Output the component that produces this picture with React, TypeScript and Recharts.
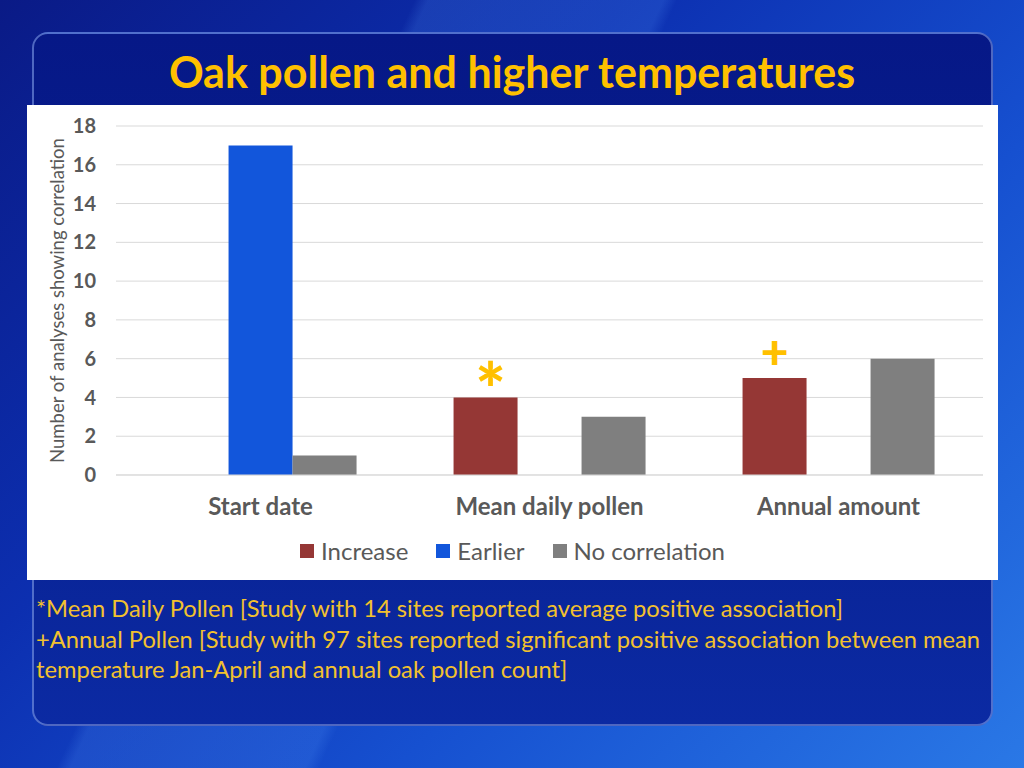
import {
  BarChart,
  Bar,
  XAxis,
  YAxis,
  CartesianGrid,
  Legend,
  LabelList,
  Label,
} from 'recharts'

// categories and series
const categories = ['Start date', 'Mean daily pollen', 'Annual amount']
const increase = [null, 4, 5]
const earlier = [17, null, null]
const noCorrelation = [1, 3, 6]
const markers = ['', '*', '+']
const yTicks = [0, 2, 4, 6, 8, 10, 12, 14, 16, 18]

const footnotes = [
  '*Mean Daily Pollen [Study with 14 sites reported average positive association]',
  '+Annual Pollen [Study with 97 sites reported significant positive association between mean',
  'temperature Jan-April and annual oak pollen count]',
]

const series = [
  { key: 'increase', name: 'Increase', color: '#953735' },
  { key: 'earlier', name: 'Earlier', color: '#1256DB' },
  { key: 'noCorrelation', name: 'No correlation', color: '#7F7F7F' },
]

const data = categories.map((name, i) => ({
  name,
  increase: increase[i],
  earlier: earlier[i],
  noCorrelation: noCorrelation[i],
  marker: markers[i],
}))

const FONT = 'Lato, "Open Sans", sans-serif'
const TEXT_GREY = '#595959'
const GOLD = '#FFC000'

// the yellow * and + drawn above the Increase bars
function MarkerLabel(props: any) {
  const { x, y, width, value } = props
  if (!value) return null
  const isStar = value === '*'
  return (
    <text
      x={x + width / 2 + (isStar ? 5 : 0)}
      y={isStar ? y + 19 : y - 9}
      textAnchor="middle"
      fill={GOLD}
      fontFamily={FONT}
      fontWeight={900}
      fontSize={isStar ? 72 : 48}
    >
      {value}
    </text>
  )
}

function YTitle(props: any) {
  const { viewBox } = props
  const cx = viewBox.x + 30
  const cy = viewBox.y + viewBox.height / 2
  return (
    <text
      x={cx}
      y={cy}
      transform={`rotate(-90, ${cx}, ${cy})`}
      textAnchor="middle"
      dominantBaseline="central"
      fill={TEXT_GREY}
      fontFamily={FONT}
      fontSize={18.5}
    >
      Number of analyses showing correlation
    </text>
  )
}

function LegendContent() {
  return (
    <div
      style={{
        height: 45,
        display: 'flex',
        justifyContent: 'center',
        alignItems: 'flex-start',
        paddingTop: 4,
        boxSizing: 'border-box',
        fontFamily: FONT,
        fontSize: 24,
        lineHeight: '24px',
        color: TEXT_GREY,
        gap: 28,
      }}
    >
      {series.map((s) => (
        <div key={s.key} style={{ display: 'flex', alignItems: 'center', gap: 7 }}>
          <span style={{ width: 14, height: 14, background: s.color, display: 'inline-block' }} />
          <span>{s.name}</span>
        </div>
      ))}
    </div>
  )
}

export default function App() {
  return (
    <div
      style={{
        position: 'fixed',
        left: 0,
        top: 0,
        width: 1024,
        height: 768,
        overflow: 'hidden',
        fontFamily: FONT,
        background:
          'linear-gradient(115deg, rgba(255,255,255,0) 30%, rgba(90,160,255,0.18) 31%, rgba(90,160,255,0.18) 48%, rgba(255,255,255,0) 49%), linear-gradient(135deg, #0a1a86 0%, #0c2fb0 35%, #1650d0 65%, #2a78e6 100%)',
      }}
    >
      {/* slide panel */}
      <div
        style={{
          position: 'absolute',
          left: 32,
          top: 32,
          width: 961,
          height: 694,
          borderRadius: 16,
          boxSizing: 'border-box',
          border: '2px solid rgba(140,170,240,0.55)',
          background: 'linear-gradient(180deg, #061887 0%, #08208f 55%, #0b2aa3 100%)',
        }}
      />
      <div
        style={{
          position: 'absolute',
          left: 0,
          top: 44,
          width: 1024,
          textAlign: 'center',
          color: GOLD,
          fontWeight: 700,
          fontSize: 43,
          lineHeight: '56px',
        }}
      >
        Oak pollen and higher temperatures
      </div>

      {/* chart box */}
      <div style={{ position: 'absolute', left: 27, top: 105, width: 971, height: 475, background: '#FFFFFF' }}>
        <BarChart
          width={971}
          height={475}
          data={data}
          margin={{ top: 21, right: 15, left: 0, bottom: 0 }}
          barCategoryGap="16.8%"
          barGap={0}
        >
          <CartesianGrid vertical={false} stroke="#D9D9D9" strokeWidth={1} />
          <XAxis
            dataKey="name"
            axisLine={{ stroke: '#D9D9D9' }}
            tickLine={false}
            tickSize={0}
            tickMargin={23}
            height={60}
            tick={{ fill: TEXT_GREY, fontSize: 24, fontWeight: 700, fontFamily: FONT }}
          />
          <YAxis
            width={89}
            domain={[0, 18]}
            ticks={yTicks}
            axisLine={false}
            tickLine={false}
            tickSize={0}
            tickMargin={20}
            tick={{ fill: TEXT_GREY, fontSize: 20, fontWeight: 700, fontFamily: FONT }}
          >
            <Label content={<YTitle />} />
          </YAxis>
          <Legend
            verticalAlign="bottom"
            content={<LegendContent />}
            wrapperStyle={{ left: 0, width: 971 }}
          />
          {series.map((s) => (
            <Bar key={s.key} dataKey={s.key} name={s.name} fill={s.color} isAnimationActive={false}>
              {s.key === 'increase' && <LabelList dataKey="marker" content={<MarkerLabel />} />}
            </Bar>
          ))}
        </BarChart>
      </div>

      {/* footnotes */}
      <div
        style={{
          position: 'absolute',
          left: 36,
          top: 593,
          color: '#F2C12E',
          fontSize: 23.7,
          lineHeight: '30.5px',
        }}
      >
        {footnotes.map((line) => (
          <div key={line}>{line}</div>
        ))}
      </div>
    </div>
  )
}
